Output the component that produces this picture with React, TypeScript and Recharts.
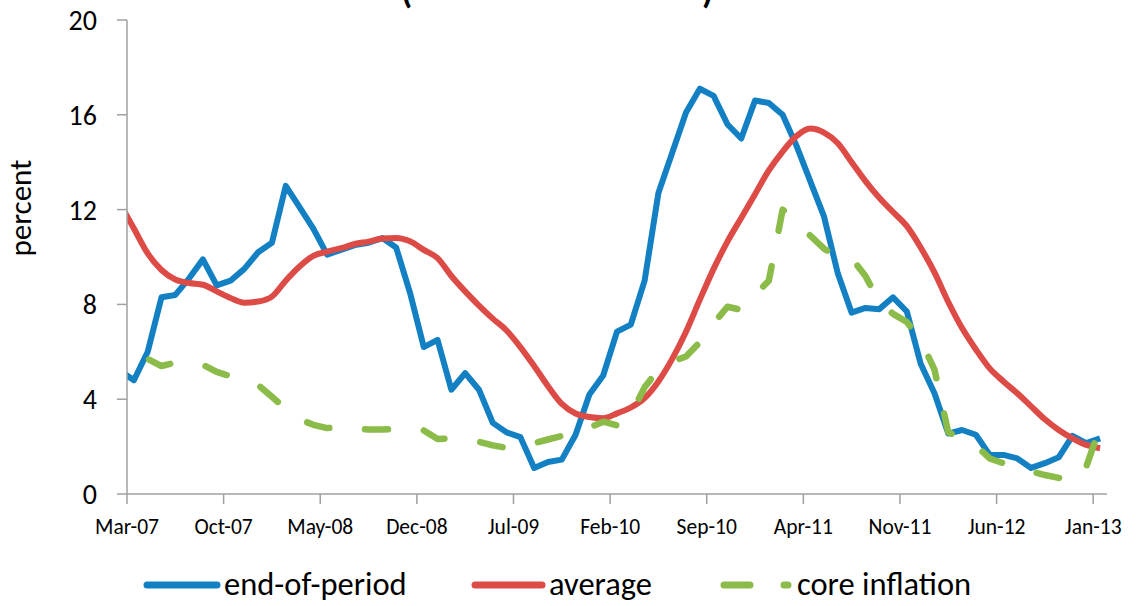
import { LineChart, Line, XAxis, YAxis, Legend } from 'recharts'

const FONT = 'Carlito, Lato, "Open Sans", sans-serif'
const BLUE = '#1480c4'
const RED = '#dc4b46'
const GREEN = '#8bbb48'
const AXIS = '#a0a0a0'

const MONTH_NAMES = ['Jan', 'Feb', 'Mar', 'Apr', 'May', 'Jun', 'Jul', 'Aug', 'Sep', 'Oct', 'Nov', 'Dec']

// Feb-07 .. Jan-13 (Feb-07 sits left of the axis and is clipped, as in the source)
const months = Array.from({ length: 72 }, (_, i) => {
  const m = (1 + i) % 12
  const y = 7 + Math.floor((1 + i) / 12)
  return `${MONTH_NAMES[m]}-${String(y).padStart(2, '0')}`
})

const tickLabels = ['Mar-07', 'Oct-07', 'May-08', 'Dec-08', 'Jul-09', 'Feb-10', 'Sep-10', 'Apr-11', 'Nov-11', 'Jun-12', 'Jan-13']
const yTicks = [0, 4, 8, 12, 16, 20]

const endOfPeriod = [
  5.2, 4.8, 6.0, 8.3, 8.4, 9.1, 9.9, 8.8, 9.0, 9.5, 10.2, 10.6,
  13.0, 12.1, 11.2, 10.1, 10.3, 10.5, 10.6, 10.8, 10.4, 8.5, 6.2, 6.5,
  4.4, 5.1, 4.4, 3.0, 2.6, 2.4, 1.1, 1.35, 1.45, 2.5, 4.2, 5.0,
  6.85, 7.15, 9.0, 12.7, 14.4, 16.1, 17.1, 16.8, 15.6, 15.0, 16.6, 16.5,
  16.0, 14.7, 13.2, 11.7, 9.3, 7.65, 7.85, 7.8, 8.3, 7.7, 5.5, 4.25,
  2.55, 2.7, 2.5, 1.65, 1.65, 1.5, 1.1, 1.3, 1.55, 2.45, 2.15, 2.35,
]

const average = [
  12.25, 11.2, 10.15, 9.45, 9.05, 8.9, 8.83, 8.55, 8.27, 8.07, 8.12, 8.33,
  9.0, 9.6, 10.05, 10.23, 10.37, 10.55, 10.65, 10.78, 10.8, 10.66, 10.3, 9.95,
  9.2, 8.55, 7.95, 7.4, 6.9, 6.2, 5.4, 4.55, 3.8, 3.4, 3.25, 3.2,
  3.4, 3.65, 4.05, 4.75, 5.7, 6.85, 8.2, 9.5, 10.65, 11.65, 12.65, 13.65,
  14.45, 15.1, 15.42, 15.25, 14.8, 14.0, 13.2, 12.5, 11.9, 11.3, 10.4, 9.35,
  8.1, 7.0, 6.1, 5.3, 4.75, 4.25, 3.7, 3.15, 2.7, 2.35, 2.07, 1.93,
]

const coreInflation = [
  5.15, 5.45, 5.7, 5.4, 5.55, 5.5, 5.45, 5.15, 4.97, 4.8, 4.6, 4.1,
  3.6, 3.15, 2.92, 2.78, 2.85, 2.75, 2.72, 2.72, 2.74, 2.75, 2.68, 2.32,
  2.35, 2.3, 2.2, 2.05, 1.95, 2.0, 2.15, 2.3, 2.45, 2.6, 2.8, 3.05,
  2.9, 3.35, 4.5, 5.25, 5.6, 5.8, 6.4, 7.2, 7.9, 7.77, 8.4, 9.0,
  12.0, 11.5, 10.9, 10.35, 10.0, 9.95, 9.2, 8.1, 7.6, 7.26, 6.5, 5.25,
  2.6, 2.35, 2.05, 1.5, 1.3, 1.12, 0.95, 0.8, 0.68, 0.52, 1.15, 2.85,
]

const data = months.map((month, i) => ({
  x: i,
  month,
  endPeriod: endOfPeriod[i],
  average: average[i],
  core: coreInflation[i],
}))

// tick marks sit on the month boundaries, points in the middle of each month
const xTicks = tickLabels.map(l => months.indexOf(l) - 0.5)

const legendItems = [
  { label: 'end-of-period', color: BLUE, x1: 147, x2: 217, tx: 224, dash: undefined },
  { label: 'average', color: RED, x1: 475, x2: 542, tx: 549, dash: undefined },
  { label: 'core inflation', color: GREEN, x1: 724, x2: 788, tx: 797, dash: '26 34' },
]

function LegendContent() {
  return (
    <svg width={1146} height={50}>
      {legendItems.map(it => (
        <g key={it.label}>
          <line
            x1={it.x1}
            x2={it.x2}
            y1={25}
            y2={25}
            stroke={it.color}
            strokeWidth={7}
            strokeLinecap="round"
            strokeDasharray={it.dash}
          />
          <text x={it.tx} y={35} fontSize={32.5} fontFamily={FONT} fill="#000">
            {it.label}
          </text>
        </g>
      ))}
    </svg>
  )
}

function PercentLabel() {
  return (
    <text
      x={31}
      y={208}
      transform="rotate(-90 31 208)"
      textAnchor="middle"
      fontSize={31}
      fontFamily={FONT}
      fill="#000"
    >
      percent
    </text>
  )
}

export default function App() {
  return (
    <div style={{ position: 'absolute', left: 0, top: 0, width: 1146, height: 606, background: '#fff' }}>
      <LineChart
        width={1146}
        height={606}
        data={data}
        margin={{ top: 20, right: 39, bottom: 52, left: 0 }}
      >
        <XAxis
          dataKey="x"
          type="number"
          domain={[0.5, 71.5]}
          allowDataOverflow
          ticks={xTicks}
          interval={0}
          tickFormatter={(v: number) => months[Math.round(v + 0.5)]}
          height={60}
          tickSize={10}
          tickMargin={15}
          axisLine={{ stroke: AXIS, strokeWidth: 1.5 }}
          tickLine={{ stroke: AXIS, strokeWidth: 1.5 }}
          tick={{ fill: '#000', fontSize: 21.5, fontFamily: FONT }}
        />
        <YAxis
          domain={[0, 20]}
          ticks={yTicks}
          interval={0}
          width={127}
          tickSize={10}
          tickMargin={20}
          axisLine={{ stroke: AXIS, strokeWidth: 1.5 }}
          tickLine={{ stroke: AXIS, strokeWidth: 1.5 }}
          tick={{ fill: '#000', fontSize: 28, fontFamily: FONT }}
          label={<PercentLabel />}
        />
        <Line
          type="linear"
          dataKey="endPeriod"
          stroke={BLUE}
          strokeWidth={6}
          strokeLinejoin="round"
          dot={false}
          activeDot={false}
          isAnimationActive={false}
        />
        <Line
          type="monotone"
          dataKey="average"
          stroke={RED}
          strokeWidth={6}
          strokeLinejoin="round"
          dot={false}
          activeDot={false}
          isAnimationActive={false}
        />
        <Line
          type="linear"
          dataKey="core"
          stroke={GREEN}
          strokeWidth={6.5}
          strokeLinejoin="round"
          strokeLinecap="round"
          strokeDasharray="23 36"
          strokeDashoffset={27}
          dot={false}
          activeDot={false}
          isAnimationActive={false}
        />
        <Legend
          layout="horizontal"
          verticalAlign="middle"
          align="center"
          content={<LegendContent />}
          wrapperStyle={{ left: 0, top: 560, width: 1146, height: 50 }}
        />
      </LineChart>
      <svg
        width={1146}
        height={20}
        style={{ position: 'absolute', left: 0, top: 0, pointerEvents: 'none' }}
      >
        <text x={401} y={3} fontSize={36} fontWeight="bold" fontFamily={FONT} fill="#000">(</text>
        <text x={702} y={3} fontSize={36} fontWeight="bold" fontFamily={FONT} fill="#000">)</text>
      </svg>
    </div>
  )
}
